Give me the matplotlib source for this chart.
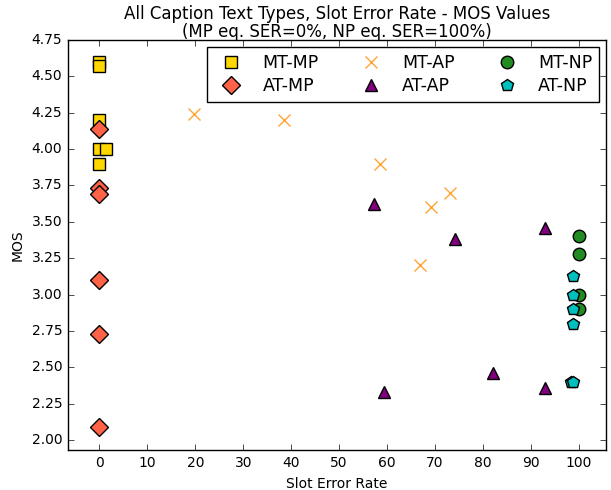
import matplotlib
matplotlib.use("Agg")
import matplotlib.pyplot as plt

plt.style.use("classic")

# Data
mt_mp_x = [0, 0, 0, 0, 1.3, 0]
mt_mp_y = [4.60, 4.57, 4.20, 4.00, 4.00, 3.90]

at_mp_x = [0, 0, 0, 0, 0, 0]
at_mp_y = [4.14, 3.73, 3.69, 3.10, 2.73, 2.09]

mt_ap_x = [19.8, 38.6, 58.5, 69.1, 73.1, 66.9]
mt_ap_y = [4.24, 4.20, 3.90, 3.60, 3.70, 3.20]

at_ap_x = [57.3, 74.2, 93.0, 82.1, 59.4, 93.0]
at_ap_y = [3.62, 3.38, 3.46, 2.46, 2.33, 2.36]

mt_np_x = [100, 100, 100, 100]
mt_np_y = [3.40, 3.28, 3.00, 2.90]

at_np_x = [98.8, 98.8, 98.8, 98.8, 98.3, 98.8]
at_np_y = [3.13, 3.00, 2.90, 2.80, 2.40, 2.40]

xticks = [0, 10, 20, 30, 40, 50, 60, 70, 80, 90, 100]
yticks = [2.00, 2.25, 2.50, 2.75, 3.00, 3.25, 3.50, 3.75, 4.00, 4.25, 4.50, 4.75]

fig = plt.figure(figsize=(6.11, 4.90), dpi=100, facecolor="white")
ax = fig.add_axes([0.111, 0.0816, 0.881, 0.8367])

ms = 9
ax.plot(mt_mp_x, mt_mp_y, linestyle="none", marker="s", ms=ms, mfc="#FFD700", mec="black", mew=1, label="MT-MP")
ax.plot(at_mp_x, at_mp_y, linestyle="none", marker="D", ms=ms, mfc="#FF6347", mec="black", mew=1, label="AT-MP")
ax.plot(mt_ap_x, mt_ap_y, linestyle="none", marker="x", ms=ms, mec="#FFA533", mew=1, label="MT-AP")
ax.plot(at_ap_x, at_ap_y, linestyle="none", marker="^", ms=ms, mfc="#800080", mec="black", mew=1, label="AT-AP")
ax.plot(mt_np_x, mt_np_y, linestyle="none", marker="o", ms=ms, mfc="#228B22", mec="black", mew=1, label="MT-NP")
ax.plot(at_np_x, at_np_y, linestyle="none", marker="p", ms=ms, mfc="#00BFBF", mec="black", mew=1, label="AT-NP")

ax.set_xlim(-6.6, 105.7)
ax.set_ylim(1.931, 4.75)
ax.set_xticks(xticks)
ax.set_yticks(yticks)
ax.set_yticklabels(["%.2f" % v for v in yticks])
ax.tick_params(labelsize=10)

ax.set_xlabel("Slot Error Rate", fontsize=10)
ax.set_ylabel("MOS", fontsize=10)
ax.set_title("All Caption Text Types, Slot Error Rate - MOS Values\n(MP eq. SER=0%, NP eq. SER=100%)",
             fontsize=12, pad=2, linespacing=1.0)

ax.legend(loc="upper right", ncol=3, numpoints=1, fontsize=12.5, borderaxespad=0.4,
          handlelength=2.0, handletextpad=0.8, columnspacing=2.0, labelspacing=0.3,
          borderpad=0.4)

fig.savefig("out.png", dpi=100, facecolor="white")
